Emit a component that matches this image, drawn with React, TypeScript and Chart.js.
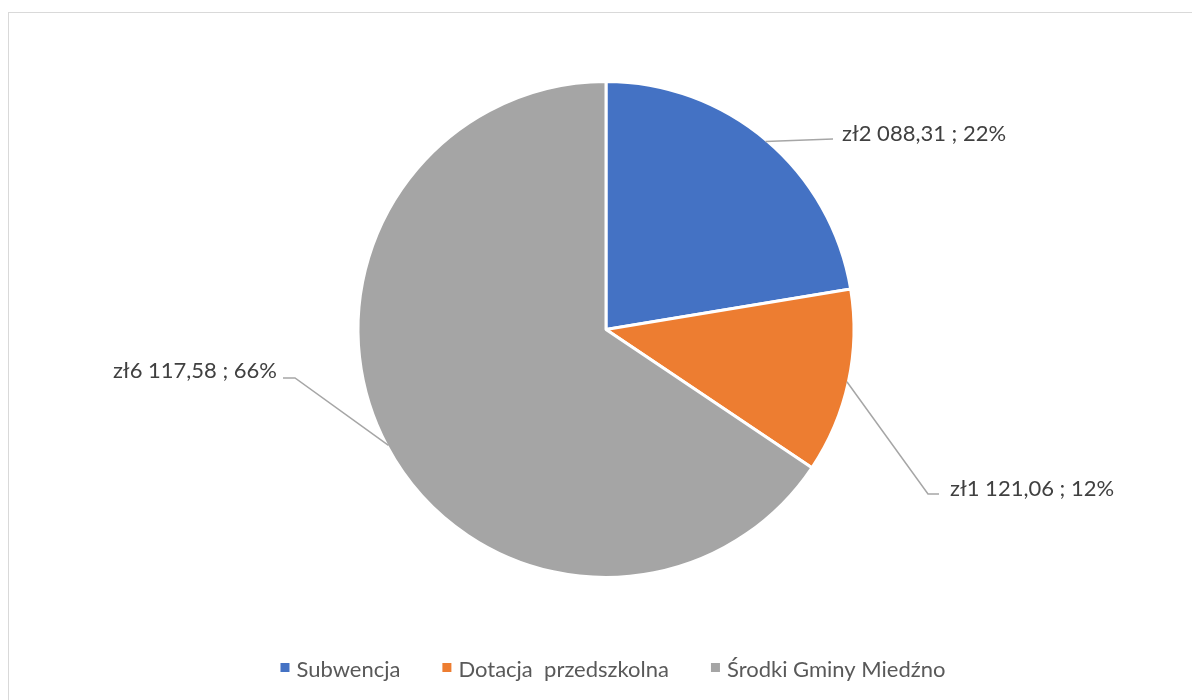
import React, { useEffect, useRef } from "react";
import { Chart, registerables } from "chart.js";

Chart.register(...registerables);

// ---- data ----
const categories = ["Subwencja", "Dotacja  przedszkolna", "Środki Gminy Miedźno"];
const values = [2088.31, 1121.06, 6117.58];
const colors = ["#4472C4", "#ED7D31", "#A5A5A5"];

const FONT = "Lato, 'Open Sans', sans-serif";

function formatPL(v: number): string {
  const [intPart, dec] = v.toFixed(2).split(".");
  const withSpaces = intPart.replace(/\B(?=(\d{3})+(?!\d))/g, " ");
  return `zł${withSpaces},${dec}`;
}

// label placement (offsets from pie centre, in px)
const labelLayout = [
  { elbow: null as null | [number, number], end: [227, -190.5], text: [236, -188.5], align: "left" },
  { elbow: [322, 164.5], end: [333, 164.5], text: [344, 166.5], align: "left" },
  { elbow: [-311, 48.5], end: [-323, 48.5], text: [-329, 48.5], align: "right" },
];

const frameBorder = {
  id: "frameBorder",
  beforeDraw(chart: any) {
    const ctx = chart.ctx;
    ctx.save();
    ctx.fillStyle = "#FFFFFF";
    ctx.fillRect(0, 0, chart.width, chart.height);
    ctx.strokeStyle = "#D9D9D9";
    ctx.lineWidth = 1;
    ctx.strokeRect(8.5, 12.5, 1300, 800);
    ctx.restore();
  },
};

const pieLabels = {
  id: "pieLabels",
  afterDatasetsDraw(chart: any) {
    const ctx = chart.ctx;
    const meta = chart.getDatasetMeta(0);
    const data = chart.data.datasets[0].data as number[];
    const total = data.reduce((a, b) => a + b, 0);
    ctx.save();
    meta.data.forEach((arc: any, i: number) => {
      const { x, y, startAngle, endAngle, outerRadius } = arc.getProps(
        ["x", "y", "startAngle", "endAngle", "outerRadius"],
        true
      );
      const mid = (startAngle + endAngle) / 2;
      const r = outerRadius - 1.5;
      const sx = x + Math.cos(mid) * r;
      const sy = y + Math.sin(mid) * r;
      const lay = labelLayout[i];
      ctx.strokeStyle = "#A6A6A6";
      ctx.lineWidth = 1.5;
      ctx.beginPath();
      ctx.moveTo(sx, sy);
      if (lay.elbow) ctx.lineTo(x + lay.elbow[0], y + lay.elbow[1]);
      ctx.lineTo(x + lay.end[0], y + lay.end[1]);
      ctx.stroke();
      const pct = Math.round((data[i] / total) * 100);
      const txt = `${formatPL(data[i])} ; ${pct}%`;
      ctx.fillStyle = "#404040";
      ctx.font = `22px ${FONT}`;
      ctx.textAlign = lay.align;
      ctx.textBaseline = "alphabetic";
      ctx.fillText(txt, x + lay.text[0], y + lay.text[1]);
    });
    ctx.restore();
  },
};

const customLegend = {
  id: "customLegend",
  afterDraw(chart: any) {
    const ctx = chart.ctx;
    const labels = chart.data.labels as string[];
    const bg = chart.data.datasets[0].backgroundColor as string[];
    ctx.save();
    ctx.font = `22px ${FONT}`;
    const box = 9;
    const gapBoxText = 7;
    const gapItems = 42;
    const widths = labels.map((l) => ctx.measureText(l).width);
    const total =
      widths.reduce((a, b) => a + b + box + gapBoxText, 0) + gapItems * (labels.length - 1);
    let cx = 613 - total / 2;
    const boxCy = 667.5;
    const baseline = 677;
    labels.forEach((l, i) => {
      ctx.fillStyle = bg[i];
      ctx.fillRect(cx, boxCy - box / 2, box, box);
      cx += box + gapBoxText;
      ctx.fillStyle = "#595959";
      ctx.textAlign = "left";
      ctx.textBaseline = "alphabetic";
      ctx.fillText(l, cx, baseline);
      cx += widths[i] + gapItems;
    });
    ctx.restore();
  },
};

export default function App() {
  const canvasRef = useRef<HTMLCanvasElement | null>(null);

  useEffect(() => {
    if (!canvasRef.current) return;
    const chart = new Chart(canvasRef.current, {
      type: "pie",
      data: {
        labels: categories,
        datasets: [
          {
            data: values,
            backgroundColor: colors,
            borderColor: "#FFFFFF",
            borderWidth: 3,
          },
        ],
      },
      options: {
        responsive: false,
        animation: false,
        radius: 248,
        layout: { padding: { left: 40, right: 20, top: 60, bottom: 101 } },
        plugins: {
          legend: { display: false },
          tooltip: { enabled: false },
        },
      } as any,
      plugins: [frameBorder, pieLabels, customLegend],
    });
    return () => chart.destroy();
  }, []);

  return (
    <div style={{ position: "absolute", left: 0, top: 0, width: 1192, height: 700, background: "#fff" }}>
      <canvas ref={canvasRef} width={1192} height={700} />
    </div>
  );
}
